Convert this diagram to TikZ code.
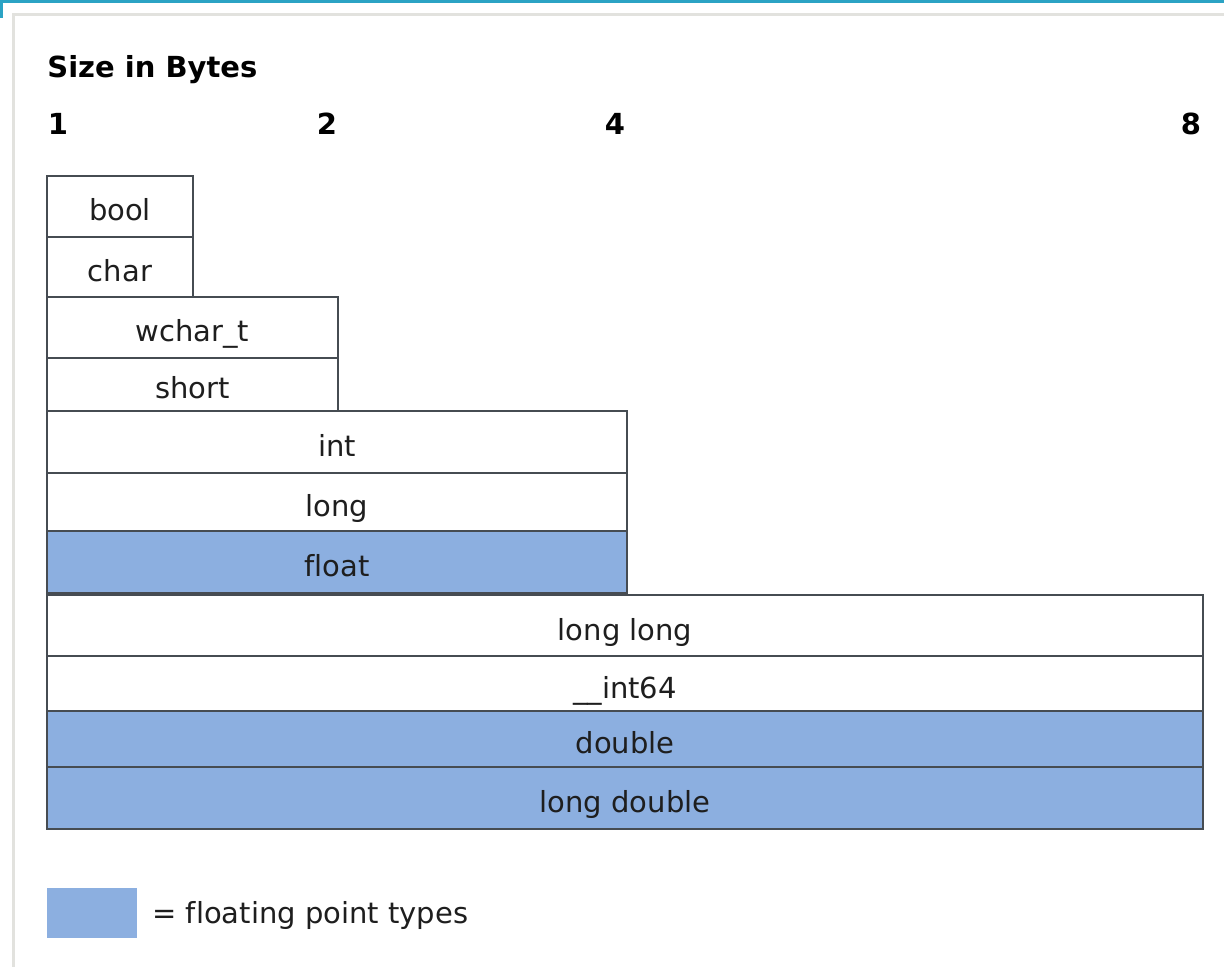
\documentclass[tikz,border=0pt]{standalone}
\usepackage{fontspec}
\setmainfont{DejaVu Sans}[Ligatures=CommonOff]
\usetikzlibrary{positioning}
\definecolor{fpBlue}{HTML}{8CAFE0}
\definecolor{cellLine}{HTML}{464C52}
\definecolor{frameTeal}{HTML}{2BA3C4}
\definecolor{panelEdge}{HTML}{E2E2DE}
\definecolor{labelInk}{HTML}{1E1E1E}
\tikzset{
  typecell/.style={draw=cellLine, line width=1pt, anchor=north west,
    inner sep=0pt, outer sep=0pt, font=\fontsize{14.5}{17}\selectfont, text=labelInk,
    text height=14.5pt, text depth=0pt},
  floatcell/.style={typecell, fill=fpBlue},
  byte1/.style={minimum width=73pt},
  byte2/.style={minimum width=145.5pt},
  byte4/.style={minimum width=290pt},
  byte8/.style={minimum width=578pt},
  headtext/.style={font=\fontsize{14.5}{17}\selectfont\bfseries, inner sep=0pt, text=black},
  legendtext/.style={font=\fontsize{14.5}{17}\selectfont, inner sep=0pt, text=labelInk,
    text height=10pt, text depth=0pt}
}

\begin{document}
\begin{tikzpicture}[x=0.5pt, y=-0.5pt]
  \useasboundingbox (0,0) rectangle (1224,967);
  \fill[white] (0,0) rectangle (1224,967);
  \draw[panelEdge, line width=1.5pt] (13,1000) -- (13,15) -- (1260,15);
  \fill[frameTeal] (0,0) rectangle (1224,3.5);
  \fill[frameTeal] (0,0) rectangle (2.5,18);

  \node[headtext, anchor=base west] (title) at (47,78) {Size in Bytes};
  \foreach \n/\x in {1/58,2/327,4/615,8/1191}
    \node[headtext, anchor=base] (tick\n) at (\x,135) {\n};

  % one byte
  \node[typecell, byte1, minimum height=30.5pt] (bool) at (47,176) {bool};
  \node[typecell, byte1, minimum height=30pt] (char) at (bool.south west) {char};

  % two bytes
  \node[typecell, byte2, minimum height=30.5pt] (wchar) at (char.south west) {wchar\_t};
  \node[typecell, byte2, minimum height=26.5pt] (short) at (wchar.south west) {short};

  % four bytes
  \node[typecell, byte4, minimum height=31pt] (int) at (short.south west) {int};
  \node[typecell, byte4, minimum height=29pt] (long) at (int.south west) {long};
  \node[floatcell, byte4, minimum height=31pt] (float) at (long.south west) {float};

  % eight bytes
  \node[typecell, byte8, minimum height=30.5pt] (longlong) at (47,595) {long long};
  \node[typecell, byte8, minimum height=27.5pt] (int64) at (longlong.south west) {\_\_int64};
  \node[floatcell, byte8, minimum height=28pt] (double) at (int64.south west) {double};
  \node[floatcell, byte8, minimum height=31pt] (longdouble) at (double.south west) {long double};

  % legend
  \node[fill=fpBlue, anchor=north west, minimum width=45pt, minimum height=25pt,
    inner sep=0pt, outer sep=0pt] (legendkey) at (47,888) {};
  \node[legendtext, right=7.5pt of legendkey] (legendlabel) {= floating point types};
\end{tikzpicture}
\end{document}
